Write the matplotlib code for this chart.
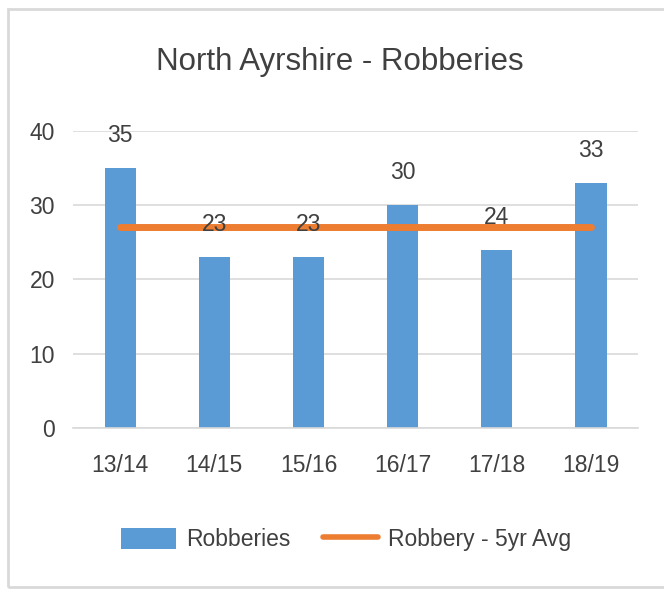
import matplotlib.pyplot as plt
from matplotlib.patches import Rectangle

years = ["13/14", "14/15", "15/16", "16/17", "17/18", "18/19"]
robberies = [35, 23, 23, 30, 24, 33]
avg_5yr = [27, 27, 27, 27, 27, 27]

BLUE = "#5B9BD5"
ORANGE = "#ED7D31"
GRID = "#D9D9D9"
TEXT = "#404040"

plt.rcParams["font.family"] = ["Liberation Sans", "DejaVu Sans"]

fig = plt.figure(figsize=(6.64, 5.92), dpi=100)
ax = fig.add_axes([0.110, 0.277, 0.851, 0.502])

x = list(range(len(years)))
bars = ax.bar(x, robberies, width=0.33, color=BLUE, label="Robberies", zorder=2)
line, = ax.plot(x, avg_5yr, color=ORANGE, linewidth=5, solid_capstyle="round",
                label="Robbery - 5yr Avg", zorder=3)

for xi, v in zip(x, robberies):
    ax.annotate(str(v), (xi, v), xytext=(0, 15), textcoords="offset points",
                ha="center", va="bottom", fontsize=16.5, color=TEXT, zorder=4)

ax.set_xlim(-0.5, len(years) - 0.5)
ax.set_ylim(0, 40)
ax.set_yticks([0, 10, 20, 30, 40])
ax.set_xticks(x)
ax.set_xticklabels(years)
ax.grid(axis="y", color=GRID, linewidth=1.2, zorder=0)
for side in ["top", "right", "left"]:
    ax.spines[side].set_visible(False)
ax.spines["bottom"].set_color(GRID)
ax.spines["bottom"].set_linewidth(1.2)
ax.tick_params(axis="both", length=0, labelsize=16.5, labelcolor=TEXT)
ax.tick_params(axis="x", pad=19)
ax.tick_params(axis="y", pad=13)

fig.text(0.512, 0.895, "North Ayrshire - Robberies", ha="center", va="center",
         fontsize=22.5, color=TEXT)

leg = fig.legend(handles=[bars, line], loc="center", bbox_to_anchor=(0.521, 0.088),
                 ncol=2, frameon=False, fontsize=16.5, labelcolor=TEXT,
                 handlelength=2.4, handleheight=1.0, columnspacing=1.4,
                 handletextpad=0.45)
leg.get_lines()[0].set_linewidth(4)

fig.patches.append(Rectangle((0.012, 0.009), 0.99, 0.975, transform=fig.transFigure,
                             fill=False, edgecolor=GRID, linewidth=2))

fig.savefig("out.png", dpi=100)
